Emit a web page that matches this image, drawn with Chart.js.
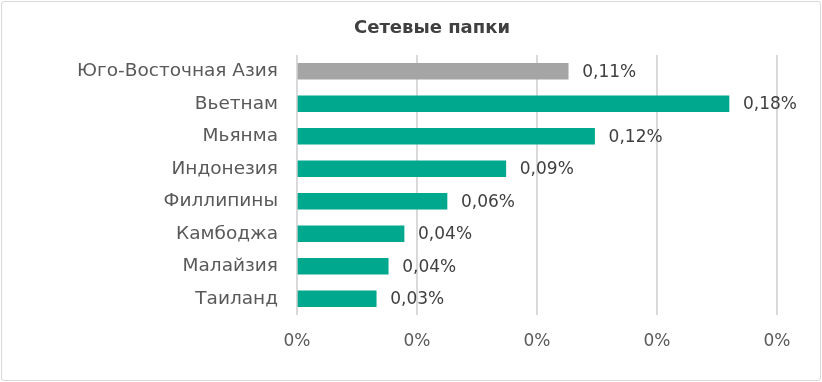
<!DOCTYPE html>
<html>
<head>
<meta charset="utf-8">
<script src="https://cdn.jsdelivr.net/npm/chart.js@4"></script>
<style>
    body { margin: 0; background: #fff; }
    #quadro {
        position: absolute; left: 1px; top: 1px;
        width: 818px; height: 378px;
        border: 1px solid #d9d9d9; border-radius: 3px;
    }
    canvas { position: absolute; left: -2px; top: -2px; }
</style>
</head>
<body>
<div id="quadro"><canvas id="grafico" width="822" height="382"></canvas></div>
<script>
const categorias = ["Юго-Восточная Азия", "Вьетнам", "Мьянма", "Индонезия", "Филлипины", "Камбоджа", "Малайзия", "Таиланд"];
const valores = [0.113, 0.180, 0.124, 0.087, 0.0625, 0.0446, 0.038, 0.033];
const cores = ["#a5a5a5", "#00a88e", "#00a88e", "#00a88e", "#00a88e", "#00a88e", "#00a88e", "#00a88e"];
const eixoMin = 0;
const eixoMax = 0.2;
const eixoPasso = 0.05;
const titulo = 'Сетевые папки';

const FONTE = "'DejaVu Sans', sans-serif";

// rótulos de valor no fim de cada barra
const rotulosValor = {
    id: 'rotulosValor',
    afterDatasetsDraw(chart) {
        const ctx = chart.ctx;
        const meta = chart.getDatasetMeta(0);
        ctx.save();
        ctx.font = "17px " + FONTE;
        ctx.fillStyle = "#404040";
        ctx.textBaseline = "middle";
        ctx.textAlign = "left";
        meta.data.forEach((barra, i) => {
            const texto = valores[i].toFixed(2).replace('.', ',') + '%';
            ctx.fillText(texto, barra.x + 14, barra.y + 1);
        });
        ctx.restore();
    }
};

// título desenhado à mão (no Excel fica deslocado para a direita)
const tituloPlugin = {
    id: 'tituloPlugin',
    afterDraw(chart) {
        const ctx = chart.ctx;
        ctx.save();
        ctx.font = "bold 18px " + FONTE;
        ctx.fillStyle = "#404040";
        ctx.textAlign = "center";
        ctx.textBaseline = "middle";
        ctx.fillText(titulo, 432, 28);
        ctx.restore();
    }
};

new Chart(document.getElementById('grafico').getContext('2d'), {
    type: 'bar',
    data: {
        labels: categorias,
        datasets: [{
            data: valores,
            backgroundColor: cores,
            barThickness: 16,
            borderWidth: 0
        }]
    },
    options: {
        indexAxis: 'y',
        responsive: false,
        animation: false,
        layout: { padding: { left: 42, right: 45, top: 55, bottom: 0 } },
        plugins: {
            legend: { display: false },
            tooltip: { enabled: false },
            title: { display: false }
        },
        scales: {
            x: {
                min: eixoMin,
                max: eixoMax,
                ticks: {
                    stepSize: eixoPasso,
                    color: '#595959',
                    font: { family: FONTE, size: 17 },
                    padding: 16,
                    callback: v => Math.round(v) + '%'
                },
                grid: { color: '#d9d9d9', lineWidth: 2, drawTicks: false },
                border: { display: false },
                afterFit: escala => { escala.height = 67; }
            },
            y: {
                ticks: {
                    color: '#595959',
                    font: { family: FONTE, size: 18.5 },
                    padding: 11
                },
                grid: { display: false },
                border: { display: false },
                afterFit: escala => { escala.width = 255; }
            }
        }
    },
    plugins: [rotulosValor, tituloPlugin]
});
</script>
</body>
</html>
